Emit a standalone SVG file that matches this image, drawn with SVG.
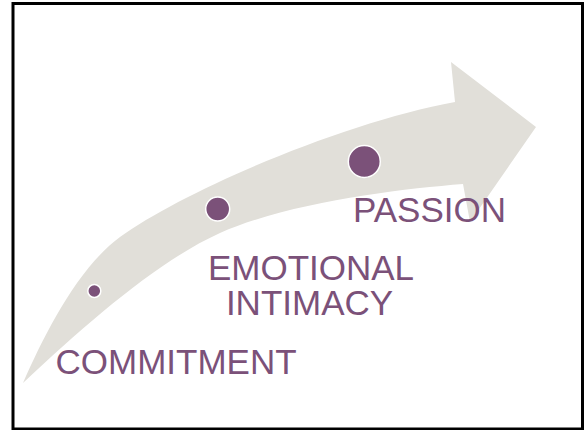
<svg xmlns="http://www.w3.org/2000/svg" width="585" height="430" viewBox="0 0 585 430">
<style>
.lbl{font-family:"Liberation Sans",Arial,sans-serif;font-size:35px;fill:#7B5179}
.dot{fill:#7B5179;stroke:#FFFFFF;stroke-width:1.5}
</style>
<rect x="0" y="0" width="585" height="430" fill="#FFFFFF"/>
<rect x="13" y="3.5" width="569.5" height="425.5" fill="none" stroke="#000000" stroke-width="3"/>
<g id="arrow">
<path d="M23,383 C45,333 78,268 120,237 C185,190 345,122 455,102 L451,62 L536,127 L470,222 L463,184 C400,189 290,202 220,233 C160,260 90,320 23,383 Z" fill="#E1DFD9"/>
</g>
<g id="commitment">
<circle class="dot" cx="94.3" cy="291" r="6.5"/>
<text class="lbl" x="55.5" y="374">COMMITMENT</text>
</g>
<g id="emotional-intimacy">
<circle class="dot" cx="217.7" cy="209" r="12"/>
<text class="lbl" x="311" y="280" text-anchor="middle">EMOTIONAL</text>
<text class="lbl" x="309.5" y="315" text-anchor="middle">INTIMACY</text>
</g>
<g id="passion">
<circle class="dot" cx="364.3" cy="161.5" r="16"/>
<text class="lbl" x="353" y="221.5">PASSION</text>
</g>
<g id="connectors"></g>
</svg>
